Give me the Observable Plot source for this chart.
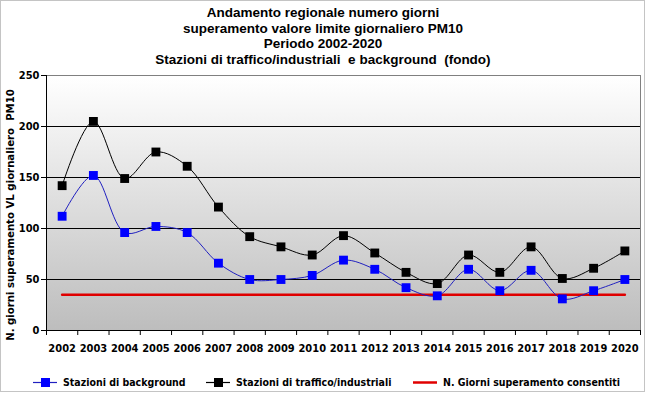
<!DOCTYPE html>
<html>
<head>
<meta charset="utf-8">
<script src="https://cdn.jsdelivr.net/npm/d3@7"></script>
<script src="https://cdn.jsdelivr.net/npm/@observablehq/plot@0.6"></script>
<style>
  html, body { margin: 0; padding: 0; background: #fff; }
  #wrap { position: relative; width: 646px; height: 393px; overflow: hidden; background: #fff; }
  #border { position: absolute; left: 0; top: 0; width: 643px; height: 390px; border: 1px solid #c4c4c4; pointer-events: none; }
  #title { position: absolute; left: 0; top: 5px; width: 646px; text-align: center;
    font-family: "Liberation Sans Narrow", "Liberation Sans", Arial, sans-serif; font-weight: bold;
    font-size: 13.5px; line-height: 15.5px; color: #000; }
  #plot { position: absolute; left: 0; top: 0; }
  .leg { position: absolute; top: 375px; height: 14px; display: flex; align-items: center;
    font-family: "DejaVu Sans Condensed", "DejaVu Sans", sans-serif; font-weight: bold; font-size: 10.5px; color: #000; white-space: nowrap; }
  .leg svg { margin-right: 6px; }
</style>
</head>
<body>
<div id="wrap">
  <div id="title"></div>
  <div id="plot"></div>
  <div id="legend"></div>
  <div id="border"></div>
</div>
<script>
const titleLines = [
  "Andamento regionale numero giorni",
  "superamento valore limite giornaliero PM10",
  "Periodo 2002-2020",
  "Stazioni di traffico/industriali  e background  (fondo)"
];
const years = [2002, 2003, 2004, 2005, 2006, 2007, 2008, 2009, 2010, 2011, 2012, 2013, 2014, 2015, 2016, 2017, 2018, 2019, 2020];
const background = [112, 152, 96, 102, 96, 66, 50, 50, 54, 69, 60, 42, 34, 60, 39, 59, 31, 39, 50];
const traffico = [142, 205, 149, 175, 161, 121, 92, 82, 74, 93, 76, 57, 46, 74, 57, 82, 51, 61, 78];
const limite = 35;
const yTicks = [0, 50, 100, 150, 200, 250];
const seriesNames = ["Stazioni di background", "Stazioni di traffico/industriali", "N. Giorni superamento consentiti"];
const yLabel = "N. giorni superamento VL giornaliero  PM10";

document.getElementById("title").innerHTML = titleLines.map(t => t.replace(/  /g, " &nbsp;")).join("<br>");

const bgData = years.map((y, i) => ({year: y, value: background[i]}));
const trData = years.map((y, i) => ({year: y, value: traffico[i]}));
const limData = years.map(y => ({year: y, value: limite}));
const bounds = [years[0] - 0.5, ...years.map(y => y + 0.5)];

const font = "'DejaVu Sans Condensed', 'DejaVu Sans', sans-serif";

const chart = Plot.plot({
  width: 646,
  height: 365,
  marginTop: 75,
  marginBottom: 35,
  marginLeft: 46,
  marginRight: 6,
  style: {fontFamily: font, fontWeight: "bold", fontSize: "11px", color: "#000", background: "transparent"},
  x: {domain: [bounds[0], bounds[bounds.length - 1]], label: null},
  y: {domain: [0, 250], label: null},
  marks: [
    Plot.frame({fill: "url(#bgGrad)", stroke: "none"}),
    Plot.gridY([50, 100, 150, 200], {stroke: "#000", strokeOpacity: 1, strokeWidth: 1}),
    Plot.frame({stroke: "#808080", strokeWidth: 1}),
    Plot.ruleY([0], {stroke: "#000"}),
    Plot.ruleX([bounds[0]], {stroke: "#000"}),
    Plot.axisX(bounds, {tickSize: 5, tickFormat: () => "", stroke: "#000", label: null}),
    Plot.axisX(years, {tickSize: 0, tickPadding: 14, tickFormat: d => String(d), fontSize: 11, fontWeight: "bold", label: null}),
    Plot.axisY(yTicks, {tickSize: 5, tickPadding: 2, fontSize: 11, fontWeight: "bold", label: null, stroke: "#000"}),
    Plot.text([yLabel], {frameAnchor: "left", textAnchor: "middle", dx: -36, dy: 12, rotate: -90, text: d => d, fontSize: 11.3, fontWeight: "bold", fill: "#000"}),
    Plot.line(limData, {x: "year", y: "value", stroke: "#e00000", strokeWidth: 2.5}),
    Plot.line(trData, {x: "year", y: "value", stroke: "#000", strokeWidth: 1, curve: "catmull-rom"}),
    Plot.dot(trData, {x: "year", y: "value", symbol: "square", r: 5, fill: "#000", stroke: "none"}),
    Plot.line(bgData, {x: "year", y: "value", stroke: "#2020c0", strokeWidth: 1, curve: "catmull-rom"}),
    Plot.dot(bgData, {x: "year", y: "value", symbol: "square", r: 5, fill: "#0000ff", stroke: "none"})
  ]
});

const svg = d3.select(chart);
const defs = svg.insert("defs", ":first-child");
const g = defs.append("linearGradient").attr("id", "bgGrad").attr("x1", 0).attr("y1", 0).attr("x2", 0).attr("y2", 1);
g.append("stop").attr("offset", "0%").attr("stop-color", "#ffffff");
g.append("stop").attr("offset", "100%").attr("stop-color", "#bdbdbd");
document.getElementById("plot").appendChild(chart);

// legend
const legColors = ["#0000ff", "#000", "#e00000"];
const legLine = ["#2020c0", "#000", "#e00000"];
const legLeft = [33, 206, 413];
const legend = document.getElementById("legend");
seriesNames.forEach((name, i) => {
  const d = document.createElement("div");
  d.className = "leg";
  d.style.left = legLeft[i] + "px";
  const marker = i < 2 ? `<rect x="8" y="3" width="9" height="9" fill="${legColors[i]}"/>` : "";
  const sw = i < 2 ? 1.2 : 2.5;
  d.innerHTML = `<svg width="24" height="14"><line x1="0" x2="24" y1="7.5" y2="7.5" stroke="${legLine[i]}" stroke-width="${sw}"/>${marker}</svg><span>${name}</span>`;
  legend.appendChild(d);
});
</script>
</body>
</html>
